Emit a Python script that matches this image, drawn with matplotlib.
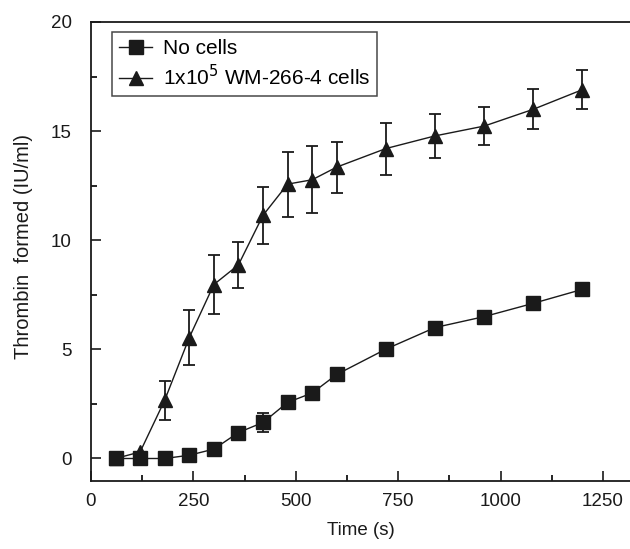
import matplotlib
matplotlib.use("Agg")
import matplotlib.pyplot as plt
from matplotlib.lines import Line2D
from matplotlib.ticker import MultipleLocator

plt.rcParams['font.family'] = ['Liberation Sans', 'DejaVu Sans']

time_s = [60, 120, 180, 240, 300, 360, 420, 480, 540, 600, 720, 840, 960, 1080, 1200]

no_cells = [0.0, 0.0, 0.0, 0.15, 0.43, 1.19, 1.65, 2.57, 3.0, 3.85, 5.01, 6.0, 6.5, 7.11, 7.75]
no_cells_err = [0, 0, 0, 0, 0, 0, 0.42, 0, 0, 0, 0, 0, 0, 0, 0]

wm_cells = [0.0, 0.3, 2.67, 5.54, 7.97, 8.87, 11.14, 12.57, 12.77, 13.35, 14.2, 14.78, 15.23, 16.0, 16.9]
wm_cells_err = [0, 0, 0.9, 1.26, 1.37, 1.04, 1.32, 1.49, 1.53, 1.17, 1.19, 1.0, 0.88, 0.92, 0.88]

labels = ["No cells", r"1x10$^{5}$ WM-266-4 cells"]

ink = "#1a1a1a"

fig = plt.figure(figsize=(6.3, 5.49), dpi=100)
ax = fig.add_axes([0.1444, 0.1239, 0.8556, 0.8361])

ax.errorbar(time_s, no_cells, yerr=no_cells_err, color=ink, marker='s', markersize=9.5,
            linewidth=1.0, elinewidth=1.3, capsize=4.5, capthick=1.3, zorder=3)
ax.errorbar(time_s, wm_cells, yerr=wm_cells_err, color=ink, marker='^', markersize=10.5,
            linewidth=1.0, elinewidth=1.3, capsize=4.5, capthick=1.3, zorder=3)

ax.set_xlim(0, 1316)
ax.set_ylim(-1.03, 20)
ax.xaxis.set_major_locator(MultipleLocator(250))
ax.xaxis.set_minor_locator(MultipleLocator(125))
ax.yaxis.set_major_locator(MultipleLocator(5))
ax.yaxis.set_minor_locator(MultipleLocator(2.5))
ax.tick_params(which='major', direction='in', length=7, width=1.2, labelsize=13.5,
               colors=ink)
ax.tick_params(which='minor', direction='in', length=4, width=1.2)
ax.tick_params(axis='x', which='major', pad=9)
ax.tick_params(axis='y', which='major', pad=14)

for side in ('left', 'bottom', 'top'):
    ax.spines[side].set_linewidth(1.3)
    ax.spines[side].set_color(ink)
ax.spines['right'].set_visible(False)

ax.set_xlabel("Time (s)", fontsize=13.5, color=ink, labelpad=8)
ax.set_ylabel("Thrombin  formed (IU/ml)", fontsize=14.5, color=ink)
ax.yaxis.set_label_coords(-0.107, 0.51)

handles = [
    Line2D([], [], color=ink, marker='s', markersize=9.5, linewidth=1.0),
    Line2D([], [], color=ink, marker='^', markersize=10.5, linewidth=1.0),
]
leg = ax.legend(handles, labels, loc='upper left', bbox_to_anchor=(0.039, 0.978),
                fontsize=15, frameon=True, fancybox=False, edgecolor=ink,
                handlelength=1.6, borderpad=0.33, labelspacing=0.3,
                handletextpad=0.5, borderaxespad=0)
leg.get_frame().set_linewidth(1.1)

fig.savefig("out.png", dpi=100)
